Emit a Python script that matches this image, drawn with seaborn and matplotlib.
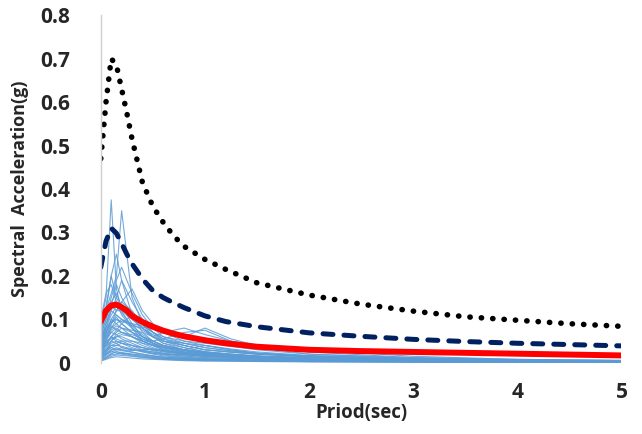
import numpy as np
import pandas as pd
import seaborn as sns
import matplotlib
matplotlib.use('Agg')
import matplotlib.pyplot as plt

# periods (sec) for the individual ground-motion records
rec_periods = [0, 0.05, 0.1, 0.15, 0.2, 0.3, 0.4, 0.5, 0.6, 0.8, 1.0, 1.25, 1.5, 2.0, 3.0, 4.0, 5.0]

# spectral acceleration (g) of each record
g01 = [0.09, 0.15, 0.375, 0.17, 0.12, 0.08, 0.05, 0.04, 0.03, 0.02, 0.015, 0.012, 0.01, 0.007, 0.004, 0.003, 0.002]
g02 = [0.08, 0.12, 0.16, 0.2, 0.35, 0.15, 0.09, 0.06, 0.045, 0.03, 0.022, 0.017, 0.013, 0.009, 0.005, 0.003, 0.002]
g03 = [0.07, 0.13, 0.2, 0.25, 0.19, 0.11, 0.07, 0.05, 0.04, 0.028, 0.02, 0.016, 0.012, 0.008, 0.005, 0.003, 0.002]
g04 = [0.06, 0.12, 0.2, 0.15, 0.13, 0.09, 0.06, 0.045, 0.035, 0.025, 0.018, 0.014, 0.011, 0.007, 0.004, 0.003, 0.002]
g05 = [0.05, 0.08, 0.12, 0.15, 0.19, 0.14, 0.1, 0.07, 0.05, 0.035, 0.025, 0.02, 0.015, 0.01, 0.006, 0.004, 0.003]
g06 = [0.05, 0.07, 0.1, 0.12, 0.14, 0.17, 0.12, 0.09, 0.07, 0.05, 0.04, 0.03, 0.022, 0.015, 0.008, 0.005, 0.003]
g07 = [0.04, 0.06, 0.09, 0.11, 0.1, 0.09, 0.075, 0.06, 0.07, 0.08, 0.065, 0.05, 0.04, 0.025, 0.012, 0.007, 0.005]
g08 = [0.03, 0.05, 0.08, 0.09, 0.1, 0.085, 0.08, 0.085, 0.07, 0.06, 0.08, 0.055, 0.04, 0.03, 0.015, 0.008, 0.005]
g09 = [0.06, 0.1, 0.14, 0.16, 0.13, 0.1, 0.08, 0.06, 0.05, 0.04, 0.03, 0.025, 0.02, 0.014, 0.008, 0.005, 0.004]
g10 = [0.05, 0.09, 0.12, 0.11, 0.1, 0.08, 0.06, 0.05, 0.04, 0.03, 0.022, 0.018, 0.014, 0.01, 0.006, 0.004, 0.003]
g11 = [0.04, 0.07, 0.1, 0.09, 0.08, 0.06, 0.045, 0.035, 0.028, 0.02, 0.015, 0.012, 0.01, 0.007, 0.004, 0.003, 0.002]
g12 = [0.03, 0.06, 0.08, 0.1, 0.09, 0.07, 0.05, 0.04, 0.032, 0.024, 0.018, 0.014, 0.011, 0.008, 0.005, 0.003, 0.002]
g13 = [0.02, 0.04, 0.06, 0.07, 0.08, 0.07, 0.06, 0.05, 0.04, 0.03, 0.024, 0.018, 0.014, 0.01, 0.006, 0.004, 0.003]
g14 = [0.025, 0.05, 0.07, 0.065, 0.055, 0.045, 0.035, 0.028, 0.022, 0.016, 0.012, 0.01, 0.008, 0.006, 0.004, 0.003, 0.002]
g15 = [0.015, 0.03, 0.045, 0.05, 0.045, 0.035, 0.028, 0.022, 0.018, 0.013, 0.01, 0.008, 0.006, 0.004, 0.003, 0.002, 0.001]
g16 = [0.01, 0.02, 0.03, 0.035, 0.03, 0.025, 0.02, 0.016, 0.013, 0.01, 0.008, 0.006, 0.005, 0.004, 0.002, 0.002, 0.001]
g17 = [0.1, 0.16, 0.18, 0.14, 0.11, 0.08, 0.06, 0.045, 0.035, 0.025, 0.02, 0.016, 0.012, 0.009, 0.005, 0.003, 0.002]
g18 = [0.08, 0.11, 0.13, 0.12, 0.12, 0.1, 0.08, 0.065, 0.05, 0.04, 0.03, 0.024, 0.02, 0.014, 0.008, 0.005, 0.004]
g19 = [0.035, 0.055, 0.075, 0.085, 0.08, 0.075, 0.07, 0.06, 0.05, 0.045, 0.04, 0.032, 0.025, 0.017, 0.01, 0.006, 0.004]
g20 = [0.02, 0.035, 0.05, 0.06, 0.065, 0.06, 0.05, 0.042, 0.035, 0.028, 0.022, 0.018, 0.015, 0.011, 0.007, 0.005, 0.004]
g21 = [0.045, 0.08, 0.11, 0.13, 0.115, 0.085, 0.065, 0.05, 0.04, 0.03, 0.024, 0.019, 0.015, 0.01, 0.006, 0.004, 0.003]
g22 = [0.012, 0.025, 0.04, 0.04, 0.038, 0.032, 0.025, 0.02, 0.016, 0.012, 0.009, 0.007, 0.006, 0.004, 0.003, 0.002, 0.001]
g23 = [0.03, 0.04, 0.06, 0.075, 0.09, 0.11, 0.09, 0.07, 0.055, 0.04, 0.03, 0.025, 0.02, 0.014, 0.008, 0.005, 0.004]
g24 = [0.055, 0.09, 0.13, 0.18, 0.15, 0.11, 0.08, 0.06, 0.045, 0.035, 0.026, 0.02, 0.016, 0.011, 0.007, 0.005, 0.003]
g25 = [0.008, 0.015, 0.022, 0.025, 0.024, 0.02, 0.016, 0.013, 0.011, 0.008, 0.007, 0.006, 0.005, 0.004, 0.003, 0.002, 0.001]
g26 = [0.018, 0.03, 0.04, 0.045, 0.05, 0.05, 0.045, 0.04, 0.035, 0.03, 0.04, 0.03, 0.022, 0.016, 0.01, 0.006, 0.004]
g27 = [0.04, 0.07, 0.09, 0.12, 0.14, 0.12, 0.09, 0.07, 0.055, 0.045, 0.035, 0.028, 0.022, 0.015, 0.009, 0.006, 0.004]
g28 = [0.025, 0.045, 0.06, 0.055, 0.05, 0.04, 0.03, 0.025, 0.02, 0.015, 0.012, 0.01, 0.008, 0.006, 0.004, 0.003, 0.002]
g29 = [0.06, 0.08, 0.095, 0.1, 0.095, 0.09, 0.085, 0.07, 0.06, 0.05, 0.045, 0.038, 0.03, 0.02, 0.012, 0.008, 0.006]
g30 = [0.005, 0.01, 0.015, 0.018, 0.017, 0.015, 0.012, 0.01, 0.008, 0.006, 0.005, 0.004, 0.004, 0.003, 0.002, 0.001, 0.001]
g31 = [0.07, 0.1, 0.15, 0.19, 0.22, 0.16, 0.11, 0.08, 0.06, 0.045, 0.035, 0.027, 0.022, 0.015, 0.009, 0.006, 0.004]
g32 = [0.015, 0.025, 0.035, 0.03, 0.028, 0.024, 0.02, 0.016, 0.013, 0.01, 0.008, 0.007, 0.006, 0.005, 0.003, 0.002, 0.002]
g33 = [0.035, 0.06, 0.07, 0.08, 0.07, 0.06, 0.05, 0.05, 0.055, 0.07, 0.075, 0.05, 0.035, 0.02, 0.01, 0.006, 0.004]
g34 = [0.02, 0.03, 0.035, 0.04, 0.045, 0.04, 0.035, 0.03, 0.025, 0.02, 0.017, 0.014, 0.012, 0.009, 0.006, 0.004, 0.003]
g35 = [0.01, 0.018, 0.028, 0.022, 0.02, 0.016, 0.013, 0.011, 0.009, 0.007, 0.006, 0.005, 0.004, 0.003, 0.002, 0.001, 0.001]
g36 = [0.03, 0.05, 0.055, 0.06, 0.06, 0.05, 0.04, 0.032, 0.026, 0.02, 0.016, 0.013, 0.01, 0.008, 0.005, 0.003, 0.002]
g37 = [0.004, 0.008, 0.012, 0.014, 0.013, 0.011, 0.009, 0.008, 0.007, 0.005, 0.004, 0.004, 0.003, 0.002, 0.002, 0.001, 0.001]
g38 = [0.02, 0.028, 0.05, 0.045, 0.035, 0.03, 0.026, 0.022, 0.02, 0.018, 0.016, 0.014, 0.012, 0.009, 0.006, 0.004, 0.003]
g39 = [0.045, 0.065, 0.085, 0.075, 0.07, 0.065, 0.055, 0.045, 0.038, 0.03, 0.025, 0.02, 0.016, 0.012, 0.007, 0.005, 0.003]
g40 = [0.012, 0.02, 0.025, 0.03, 0.035, 0.03, 0.028, 0.025, 0.022, 0.018, 0.015, 0.012, 0.01, 0.007, 0.004, 0.003, 0.002]
g41 = [0.006, 0.012, 0.018, 0.02, 0.022, 0.018, 0.015, 0.012, 0.01, 0.008, 0.006, 0.005, 0.004, 0.003, 0.002, 0.002, 0.001]
g42 = [0.025, 0.04, 0.05, 0.065, 0.07, 0.06, 0.05, 0.04, 0.03, 0.022, 0.017, 0.013, 0.01, 0.007, 0.004, 0.003, 0.002]
g43 = [0.015, 0.022, 0.03, 0.032, 0.03, 0.028, 0.03, 0.032, 0.028, 0.022, 0.018, 0.015, 0.012, 0.009, 0.006, 0.004, 0.003]
g44 = [0.035, 0.045, 0.06, 0.05, 0.045, 0.04, 0.035, 0.03, 0.028, 0.024, 0.02, 0.016, 0.013, 0.01, 0.006, 0.004, 0.003]
g45 = [0.008, 0.012, 0.02, 0.026, 0.022, 0.02, 0.018, 0.015, 0.013, 0.01, 0.008, 0.007, 0.006, 0.005, 0.003, 0.002, 0.002]
g46 = [0.05, 0.075, 0.09, 0.105, 0.09, 0.07, 0.055, 0.045, 0.036, 0.028, 0.022, 0.018, 0.015, 0.011, 0.007, 0.005, 0.003]

# periods for the summary spectra
sum_periods = [0, 0.05, 0.1, 0.15, 0.2, 0.25, 0.3, 0.4, 0.5, 0.6, 0.7, 0.8, 1.0, 1.2, 1.5,
               2.0, 2.5, 3.0, 3.5, 4.0, 4.5, 5.0]
mean_sa = [0.095, 0.12, 0.132, 0.134, 0.128, 0.12, 0.108, 0.094, 0.083, 0.074, 0.067, 0.061, 0.052, 0.045, 0.037,
           0.030, 0.027, 0.025, 0.023, 0.021, 0.019, 0.017]
mid_sa = [0.22, 0.28, 0.31, 0.298, 0.275, 0.25, 0.228, 0.193, 0.166, 0.15, 0.138, 0.127, 0.108, 0.095, 0.083,
          0.069, 0.061, 0.054, 0.049, 0.045, 0.042, 0.039]
upper_sa = [0.47, 0.60, 0.70, 0.685, 0.63, 0.575, 0.515, 0.415, 0.36, 0.323, 0.292, 0.268, 0.238, 0.215, 0.184,
            0.156, 0.135, 0.119, 0.106, 0.098, 0.09, 0.084]

yticks = [0, 0.1, 0.2, 0.3, 0.4, 0.5, 0.6, 0.7, 0.8]
ytick_labels = ['0', '0.1', '0.2', '0.3', '0.4', '0.5', '0.6', '0.7', '0.8']
xticks = [0, 1, 2, 3, 4, 5]

records = [g01, g02, g03, g04, g05, g06, g07, g08, g09, g10, g11, g12, g13, g14, g15, g16, g17,
           g18, g19, g20, g21, g22, g23, g24, g25, g26, g27, g28, g29, g30, g31, g32, g33, g34,
           g35, g36, g37, g38, g39, g40, g41, g42, g43, g44, g45, g46]
rows = []
for i, rec in enumerate(records):
    for t, sa in zip(rec_periods, rec):
        rows.append({'rec': i, 'period': t, 'sa': sa})
df = pd.DataFrame(rows)

sns.set_style('white')
plt.rcParams['font.family'] = ['Open Sans', 'DejaVu Sans']

fig = plt.figure(figsize=(6.42, 4.34), dpi=100)
ax = fig.add_axes([0.157, 0.164, 0.811, 0.801])

sns.lineplot(data=df, x='period', y='sa', units='rec', estimator=None,
             color='#5B9BD5', lw=0.8, alpha=0.85, ax=ax, legend=False)

sns.lineplot(x=sum_periods, y=upper_sa, color='black', lw=4.0,
             linestyle=(0, (0.05, 2.0)), dash_capstyle='round', ax=ax)
sns.lineplot(x=sum_periods, y=mid_sa, color='#002060', lw=3.6,
             linestyle=(0, (2.0, 2.2)), dash_capstyle='round', ax=ax)
sns.lineplot(x=sum_periods, y=mean_sa, color='#FF0000', lw=4.3, ax=ax)

ax.set_xlim(0, 5)
ax.set_ylim(0, 0.8)
ax.set_xticks(xticks)
ax.set_yticks(yticks)
ax.set_yticklabels(ytick_labels)
ax.tick_params(axis='both', length=0, labelsize=15)
ax.tick_params(axis='x', pad=14)
ax.tick_params(axis='y', pad=22)
for lab in ax.get_xticklabels() + ax.get_yticklabels():
    lab.set_fontweight('bold')

ax.set_xlabel('Priod(sec)', fontsize=13.5, fontweight='bold', labelpad=0)
ax.set_ylabel('Spectral  Acceleration(g)', fontsize=13, fontweight='bold', labelpad=8)

for s in ['top', 'right', 'bottom']:
    ax.spines[s].set_visible(False)
ax.spines['left'].set_color('#D0D0D0')
ax.spines['left'].set_linewidth(1)

fig.savefig('out.png', dpi=100)
